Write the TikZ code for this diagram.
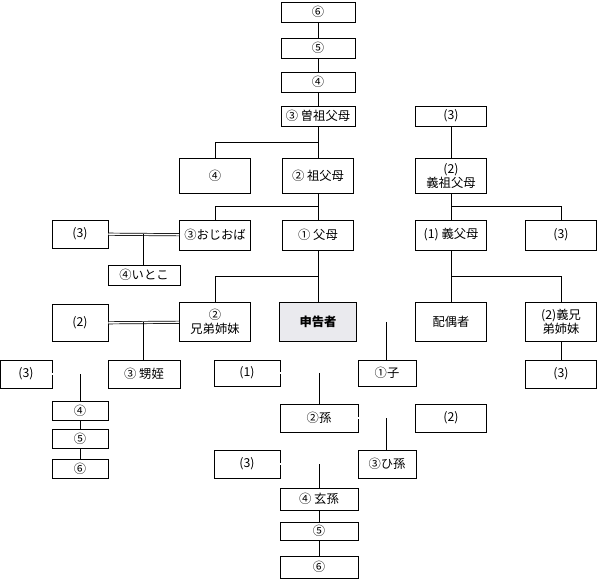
\documentclass[tikz,border=0pt]{standalone}
\usepackage{fontspec}
\setmainfont{Noto Sans CJK JP}
\usetikzlibrary{calc}
\begin{document}
\begin{tikzpicture}[
    x=0.2mm, y=-0.2mm,
    every node/.style={align=center, font=\fontsize{7}{8.2}\selectfont},
    box/.style={draw, thin, inner sep=0pt},
    sbox/.style={box, minimum width=14.8mm, minimum height=4mm},
    lbox/.style={box, minimum width=14.2mm, minimum height=7mm},
    mbox/.style={box, minimum width=14.2mm, minimum height=6mm},
    self/.style={box, line width=1pt, fill=blue!10!gray!15, minimum width=15.4mm, minimum height=7.8mm},
    dbl/.style={draw, double=white, double distance=0.9pt, thin}
  ]
    \useasboundingbox (0,0) rectangle (600,580);
    % direct line upward
    \node[sbox] (a6) at (318,12) {⑥};
    \node[sbox] (a5) at (318,48) {⑤};
    \node[sbox] (a4) at (318,82) {④};
    \node[sbox] (a3) at (318,116) {③ 曽祖父母};
    \node[lbox] (gp) at (318,176) {② 祖父母};
    \node[mbox] (par) at (318,235) {① 父母};
    \node[self] (me) at (318,322) {\bfseries 申告者};
    % collateral line
    \node[lbox] (b4) at (215,176) {④};
    \node[mbox] (unc) at (215,235) {③おじおば};
    \node[box, minimum width=11.2mm, minimum height=5.6mm] (unc3) at (80,234) {(3)};
    \node[box, minimum width=14.4mm, minimum height=4mm] (cous) at (144,275) {④いとこ};
    \node[lbox, minimum height=7.8mm] (sib) at (215,322) {②\\兄弟姉妹};
    \node[box, minimum width=11.2mm, minimum height=7.4mm] (sib2) at (80,323) {(2)};
    \node[box, minimum width=14.4mm, minimum height=5.6mm] (nep) at (144,374) {③ 甥姪};
    \node[box, minimum width=10.4mm, minimum height=5.6mm] (nep3) at (26,374) {(3)};
    \node[box, minimum width=11.2mm, minimum height=3.8mm] (n4) at (80,411) {④};
    \node[box, minimum width=11.2mm, minimum height=3.8mm] (n5) at (80,439) {⑤};
    \node[box, minimum width=11.2mm, minimum height=3.8mm] (n6) at (80,469) {⑥};
    % in-law line
    \node[sbox, minimum width=14.2mm] (ia3) at (451,116) {(3)};
    \node[lbox] (igp) at (451,176) {(2)\\義祖父母};
    \node[mbox] (ipar) at (451,235) {(1) 義父母};
    \node[mbox] (ipar3) at (561,235) {(3)};
    \node[lbox, minimum height=7.8mm] (sp) at (451,322) {配偶者};
    \node[lbox, minimum height=7.8mm] (isib) at (561,322) {(2)義兄\\弟姉妹};
    \node[mbox, minimum height=5.6mm] (isib3) at (561,374) {(3)};
    % descendants
    \node[box, minimum width=13.2mm, minimum height=5.2mm] (ch1) at (247,373) {(1)};
    \node[box, minimum width=11.6mm, minimum height=5.2mm] (ch) at (387,373) {①子};
    \node[box, minimum width=15.6mm, minimum height=5.6mm] (gc) at (319,418) {②孫};
    \node[mbox, minimum height=5.6mm] (gc2) at (451,418) {(2)};
    \node[box, minimum width=13.2mm, minimum height=5.6mm] (ggc3) at (247,464) {(3)};
    \node[box, minimum width=11.6mm, minimum height=5.6mm] (ggc) at (387,464) {③ひ孫};
    \node[box, minimum width=15.6mm, minimum height=4.4mm] (gggc) at (319,499) {④ 玄孫};
    \node[box, minimum width=15.6mm, minimum height=3.6mm] (d5) at (319,531) {⑤};
    \node[box, minimum width=15.6mm, minimum height=4.4mm] (d6) at (319,567) {⑥};
    % vertical chains
    \draw (a6) -- (a5) -- (a4) -- (a3) -- (gp) -- (par) -- (me);
    \draw (ia3) -- (igp) -- (ipar) -- (sp);
    \draw (isib) -- (isib3);
    \draw (gggc) -- (d5) -- (d6);
    \draw (n4) -- (n5) -- (n6);
    % branches
    \coordinate (k1) at ($(a3.south)!.5!(gp.north)$);
    \draw (k1) -| (b4.north);
    \coordinate (k2) at ($(gp.south)!.5!(par.north)$);
    \draw (k2) -| (unc.north);
    \coordinate (k3) at ($(par.south)!.5!(me.north)$);
    \draw (k3) -| (sib.north);
    \coordinate (k4) at ($(igp.south)!.5!(ipar.north)$);
    \draw (k4) -| (ipar3.north);
    \coordinate (k5) at ($(ipar.south)!.5!(sp.north)$);
    \draw (k5) -| (isib.north);
    % marriages
    \draw[dbl] (unc3) -- (unc);
    \coordinate (m1) at ($(unc3.east)!.5!(unc.west)$);
    \draw (m1) -- (m1 |- cous.north);
    \draw[dbl] (sib2) -- (sib);
    \coordinate (m2) at ($(sib2.east)!.5!(sib.west)$);
    \draw (m2) -- (m2 |- nep.north);
    \draw[dbl] (nep3) -- (nep);
    \coordinate (m3) at ($(nep3.east)!.5!(nep.west)$);
    \draw (m3) -- (m3 |- n4.north);
    \draw[dbl] (me) -- (sp);
    \coordinate (m4) at ($(me.east)!.5!(sp.west)$);
    \draw (m4) -- (m4 |- ch.north);
    \draw[dbl] (ch1) -- (ch);
    \coordinate (m5) at ($(ch1.east)!.5!(ch.west)$);
    \draw (m5) -- (m5 |- gc.north);
    \draw[dbl] (gc) -- (gc2);
    \coordinate (m6) at ($(gc.east)!.5!(gc2.west)$);
    \draw (m6) -- (m6 |- ggc.north);
    \draw[dbl] (ggc3) -- (ggc);
    \coordinate (m7) at ($(ggc3.east)!.5!(ggc.west)$);
    \draw (m7) -- (m7 |- gggc.north);
  \end{tikzpicture}
\end{document}
